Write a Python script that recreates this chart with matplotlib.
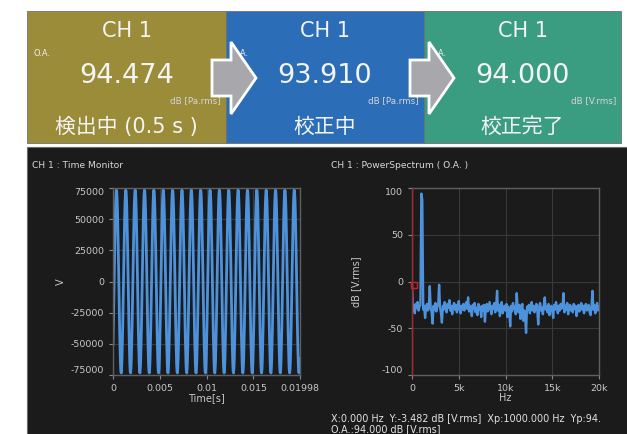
import numpy as np
import matplotlib.pyplot as plt
from matplotlib.patches import Rectangle, Polygon

W, H = 627, 434

#top status boxes
box_titles = ['CH 1', 'CH 1', 'CH 1']
box_values = ['94.474', '93.910', '94.000']
box_units = ['dB [Pa.rms]', 'dB [Pa.rms]', 'dB [V.rms]']
box_status = ['検出中 (0.5 s )', '校正中', '校正完了']
box_colors = ['#9b8c3a', '#2b6eb7', '#3a9c80']

#one period of the 1 kHz signal (25 samples), repeated over the record
wave_cycle = [-50310, -35410, -18280, 0, 18280, 35410, 50310, 62060, 69900, 73350,
              72200, 66500, 56630, 43200, 27060, 9210, -9210, -27060, -43200, -56630,
              -66500, -72200, -73350, -69900, -62060]
n_cycles = 20
sample_dt = 4e-5
time_ticks = [0, 0.005, 0.01, 0.015, 0.01998]
time_labels = ['0', '0.005', '0.01', '0.015', '0.01998']
volt_ticks = [-75000, -50000, -25000, 0, 25000, 50000, 75000]

#power spectrum, 100 Hz steps from 0 to 20 kHz
freq_step = 100
spec_db = [
    -3.5, -31, -26, -34, -24, -28, -22, -31, -27, -25, 94, 87, -30, -26, -39, -28, -24, -31, -27, -5,
    -29, -33, -45, -26, -30, -23, -32, -27, -25, -3.5, -28, -34, -44, -26, -30, -22, -29, -33, -24, -28,
    -20, -31, -26, -35, -27, -23, -30, -25, -33, -28, -21, -29, -34, -26, -30, -24, -31, -27, -22, -29,
    -17, -32, -26, -30, -37, -25, -29, -23, -33, -28, -36, -24, -30, -27, -38, -26, -31, -25, -43, -28,
    -24, -32, -27, -22, -30, -35, -26, -29, -23, -33, -27, -10, -31, -25, -37, -28, -22, -34, -29, -26,
    -31, -24, -38, -27, -30, -48, -26, -32, -23, -29, -27, -35, -12.5, -28, -33, -25, -40, -29, -24, -42,
    -31, -37, -55, -27, -30, -25, -34, -28, -22, -31, -26, -33, -29, -24, -30, -46, -27, -23, -31, -28,
    -35, -25, -17, -30, -27, -33, -24, -36, -29, -26, -31, -39, -25, -30, -22, -28, -34, -26, -31, -24,
    -29, -27, -12.5, -33, -26, -30, -23, -35, -28, -25, -31, -27, -33, -24, -29, -26, -37, -30, -25, -32,
    -28, -23, -30, -26, -34, -27, -24, -31, -29, -25, -33, -36, -27, -10, -30, -25, -34, -28, -23, -31,
    -27]
freq_ticks = [0, 5000, 10000, 15000, 20000]
freq_labels = ['0', '5k', '10k', '15k', '20k']
db_ticks = [-100, -50, 0, 50, 100]
cursor_x = 0
cursor_y = -3.482

readout = 'X:0.000 Hz  Y:-3.482 dB [V.rms]  Xp:1000.000 Hz  Yp:94.'
overall = 'O.A.:94.000 dB [V.rms]'

fig = plt.figure(figsize=(W / 100, H / 100), dpi=100)
fig.patch.set_facecolor('white')

#pixel-coordinate canvas for boxes, arrows and text
bg = fig.add_axes([0, 0, 1, 1])
bg.set_xlim(0, W)
bg.set_ylim(H, 0)
bg.axis('off')

box_left = [27, 226, 424]
box_right = [226, 424, 621]
for i in range(3):
    x0, x1 = box_left[i], box_right[i]
    cx = (x0 + x1) / 2
    bg.add_patch(Rectangle((x0, 11), x1 - x0, 132, facecolor=box_colors[i],
                           edgecolor='#6f6f6f', lw=0.6, zorder=1))
    bg.text(cx, 31, box_titles[i], color='#f4f4f4', fontsize=15, ha='center', va='center',
            family=['DejaVu Sans'], zorder=2)
    bg.text(cx, 76, box_values[i], color='#f4f4f4', fontsize=19.5, ha='center', va='center',
            family=['DejaVu Sans'], zorder=2)
    bg.text(x1 - 5, 101, box_units[i], color='#d6d6d6', fontsize=6.3, ha='right', va='center',
            zorder=2)
    bg.text(x0 + 6, 54, 'O.A.', color='#eeeeee', fontsize=6, ha='left', va='center', zorder=2)
    bg.text(cx, 127, box_status[i], color='#f4f4f4', fontsize=15, ha='center', va='center',
            family=['DejaVu Sans', 'Noto Sans CJK JP'], zorder=2)

#gray arrows between the boxes
for shift in [0, 198]:
    pts = [(212, 60), (231, 60), (231, 42), (256, 78), (231, 114), (231, 96), (212, 96)]
    pts = [(x + shift, y) for x, y in pts]
    bg.add_patch(Polygon(pts, closed=True, facecolor='#a8a8ac', edgecolor='white', lw=2,
                         joinstyle='miter', zorder=3))

#dark monitor panel
bg.add_patch(Rectangle((27, 147), 605, 292, facecolor='#1b1b1b', edgecolor='#6a6a6a',
                       lw=0.8, zorder=1))
bg.text(32, 165, 'CH 1 : Time Monitor', color='#d8d8d8', fontsize=6.6, ha='left', va='center',
        zorder=2)
bg.text(331, 165, 'CH 1 : PowerSpectrum ( O.A. )', color='#d8d8d8', fontsize=6.6, ha='left',
        va='center', zorder=2)
bg.text(331, 419, readout, color='#e4e4e4', fontsize=6.9, ha='left', va='center', zorder=2)
bg.text(331, 429, overall, color='#e4e4e4', fontsize=6.9, ha='left', va='center', zorder=2)


def px_axes(x0, y0, x1, y1):
    return fig.add_axes([x0 / W, 1 - y1 / H, (x1 - x0) / W, (y1 - y0) / H])


def style(ax):
    ax.set_facecolor('#1b1b1b')
    for s in ax.spines.values():
        s.set_color('#5f5f5f')
        s.set_linewidth(1.0)
    ax.grid(True, color='#3a3a3a', lw=0.8)
    ax.set_axisbelow(True)
    ax.tick_params(colors='#8a8a8a', labelcolor='#c8c8c8', labelsize=6.8, length=3, width=0.8)


#time monitor
ax1 = px_axes(113, 188, 300, 375)
style(ax1)
wave = np.tile(wave_cycle, n_cycles)
t = np.arange(len(wave)) * sample_dt
ax1.plot(t, wave, color='#4d92dc', lw=2.0)
ax1.set_xlim(0, 0.01998)
ax1.set_ylim(-75000, 75000)
ax1.set_xticks(time_ticks)
ax1.set_xticklabels(time_labels)
ax1.set_yticks(volt_ticks)
ax1.set_yticklabels([str(v) for v in volt_ticks])
ylabs = ax1.get_yticklabels()
ylabs[0].set_va('bottom')
ylabs[-1].set_va('top')
ax1.set_xlabel('Time[s]', color='#c8c8c8', fontsize=7)
ax1.xaxis.set_label_coords(0.5, -0.095)
ax1.set_ylabel('V', color='#c8c8c8', fontsize=7)
ax1.yaxis.set_label_coords(-0.25, 0.5)

#power spectrum
ax2 = px_axes(412, 188, 599, 375)
style(ax2)
freqs = np.arange(len(spec_db)) * freq_step
ax2.plot(freqs, spec_db, color='#4d92dc', lw=1.7)
ax2.axvline(cursor_x, color='#b3202a', lw=1.6, zorder=5)
ax2.plot([cursor_x + 200], [cursor_y], marker='s', ms=4, mfc='none', mec='#c42424', mew=1,
         clip_on=False, zorder=6)
ax2.set_xlim(0, 20000)
ax2.set_ylim(-100, 100)
ax2.set_xticks(freq_ticks)
ax2.set_xticklabels(freq_labels)
ax2.set_yticks(db_ticks)
ax2.set_yticklabels([str(v) for v in db_ticks])
ylabs = ax2.get_yticklabels()
ylabs[0].set_va('bottom')
ylabs[-1].set_va('top')
ax2.set_xlabel('Hz', color='#c8c8c8', fontsize=7)
ax2.xaxis.set_label_coords(0.5, -0.095)
ax2.set_ylabel('dB [V.rms]', color='#c8c8c8', fontsize=7)
ax2.yaxis.set_label_coords(-0.27, 0.5)

fig.savefig('out.png', dpi=100, facecolor=fig.get_facecolor())
